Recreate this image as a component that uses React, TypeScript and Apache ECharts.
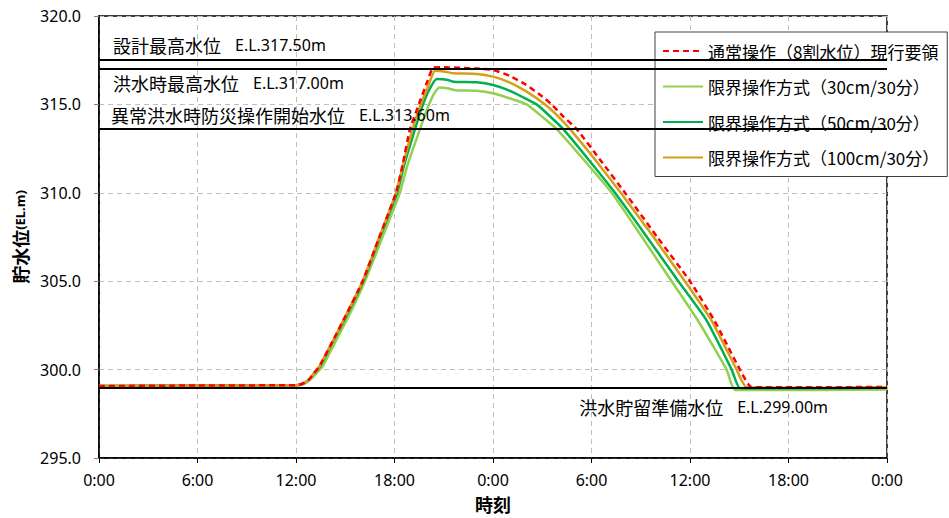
import React, { useEffect, useRef } from 'react';
import * as echarts from 'echarts';

// ---- data ----
const hourTicks = [0, 6, 12, 18, 24, 30, 36, 42, 48];

const seriesNames = [
  '通常操作（8割水位）現行要領',
  '限界操作方式（30cm/30分）',
  '限界操作方式（50cm/30分）',
  '限界操作方式（100cm/30分）',
];

const refNames = ['設計最高水位', '洪水時最高水位', '異常洪水時防災操作開始水位', '洪水貯留準備水位'];
const refLevels = [317.5, 317.0, 313.6, 299.0];

// 通常操作（8割水位）現行要領
const hoursNormal = [0, 6, 12, 12.4, 12.8, 13.1, 13.4, 14.27, 15, 16.06, 17.01, 18.09, 18.5, 18.94, 19.5, 20.0, 20.36, 21, 22, 23, 24, 25, 26, 27, 27.57, 28.3, 29.1, 30.5, 32.04, 34, 36, 37.5, 39.04, 39.76, 44, 48];
const levelNormal = [299.07, 299.1, 299.12, 299.2, 299.45, 299.8, 300.15, 301.67, 303.0, 305.0, 307.33, 310.0, 311.6, 313.6, 315.05, 316.3, 317.08, 317.1, 317.07, 317.03, 316.95, 316.62, 316.12, 315.45, 315.0, 314.3, 313.6, 311.9, 310.0, 307.5, 305.0, 302.75, 300.0, 299.0, 299.0, 299.02];

// 限界操作方式（30cm/30分）
const hours30 = [0, 6, 12, 12.5, 12.9, 13.25, 13.6, 14.45, 15.2, 16.2, 17.2, 18.33, 18.8, 19.55, 20.0, 20.4, 20.73, 21.3, 21.7, 23, 24, 25, 26.05, 27, 27.88, 29.5, 31.23, 33, 34.88, 36.5, 38.23, 38.74, 44, 48];
const level30 = [299.07, 299.1, 299.1, 299.2, 299.45, 299.8, 300.15, 301.67, 303.0, 305.0, 307.33, 310.0, 311.6, 313.6, 314.75, 315.6, 315.95, 315.9, 315.8, 315.77, 315.63, 315.35, 315.0, 314.3, 313.6, 311.9, 310.0, 307.6, 305.0, 302.75, 300.0, 298.85, 298.85, 298.87];

// 限界操作方式（50cm/30分）
const hours50 = [0, 6, 12, 12.4, 12.8, 13.1, 13.45, 14.3, 15.05, 16.1, 17.05, 18.17, 18.6, 19.25, 19.7, 20.1, 20.57, 21.2, 21.6, 23, 24, 25, 26.66, 27.5, 28.28, 29.8, 31.43, 33.3, 35.29, 37, 38.54, 39.05, 44, 48];
const level50 = [299.07, 299.1, 299.12, 299.2, 299.45, 299.8, 300.15, 301.67, 303.0, 305.0, 307.33, 310.0, 311.6, 313.6, 314.9, 315.8, 316.44, 316.4, 316.28, 316.25, 316.1, 315.78, 315.0, 314.3, 313.6, 311.9, 310.0, 307.6, 305.0, 302.8, 300.0, 298.95, 298.95, 298.98];

// 限界操作方式（100cm/30分）
const hours100 = [0, 6, 12, 12.4, 12.8, 13.1, 13.4, 14.27, 15, 16.06, 17.01, 18.09, 18.5, 19.1, 19.6, 20.0, 20.47, 21.1, 21.6, 23, 24, 25, 26, 27.17, 28, 28.69, 30.2, 31.78, 33.7, 35.69, 37.3, 38.84, 39.45, 44, 48];
const level100 = [299.07, 299.1, 299.12, 299.2, 299.45, 299.8, 300.15, 301.67, 303.0, 305.0, 307.33, 310.0, 311.5, 313.6, 315.0, 315.9, 316.9, 316.85, 316.76, 316.72, 316.57, 316.25, 315.75, 315.0, 314.3, 313.6, 311.9, 310.0, 307.6, 305.0, 302.8, 300.0, 299.0, 298.98, 299.0];

const zip = (t: number[], v: number[]) => t.map((h, i) => [h, v[i]]);

// ---- styles ----
const colors = ['#FF0000', '#92D050', '#00B050', '#D4A017'];
const refLabelPos = ['insideStartTop', 'insideStartBottom', 'insideStartTop', 'insideEndBottom'];
const refLabelDist: any[] = [[14, 6], [14, 5], [12, 5], [59, 11]];

const CJK = "'Noto Sans CJK JP'";
const LATIN = "'Noto Sans', 'Noto Sans CJK JP'";

function buildOption() {
  const refData = refLevels.map((v, i) => ({
    yAxis: v,
    label: {
      show: true,
      position: refLabelPos[i],
      distance: refLabelDist[i],
      formatter: `{c|${refNames[i]}}{s|　}{e|E.L.${v.toFixed(2)}m}`,
      rich: {
        c: { fontSize: 18, fontFamily: CJK, color: '#000' },
        s: { fontSize: 14, fontFamily: CJK },
        e: { fontSize: 16, fontFamily: LATIN, color: '#000' },
      },
    },
  }));

  const lineSeries = (idx: number, data: number[][], extra: any = {}) => ({
    name: seriesNames[idx],
    type: 'line',
    data,
    symbol: 'none',
    showSymbol: false,
    smooth: 0.15,
    z: 3,
    lineStyle: { color: colors[idx], width: 2.5, ...(extra.lineStyle || {}) },
    itemStyle: { color: colors[idx] },
  });

  return {
    animation: false,
    backgroundColor: '#fff',
    textStyle: { fontFamily: LATIN, color: '#000' },
    grid: {
      left: 99,
      right: 62,
      top: 16,
      bottom: 60,
      show: true,
      borderColor: '#000',
      borderWidth: 1.5,
      backgroundColor: 'transparent',
    },
    legend: {
      data: seriesNames,
      orient: 'vertical',
      left: 655,
      top: 32,
      padding: [8, 8, 8, 7],
      itemWidth: 40,
      itemHeight: 12,
      itemGap: 13.5,
      backgroundColor: '#fff',
      borderColor: '#404040',
      borderWidth: 1,
      borderRadius: 0,
      itemStyle: { opacity: 0 },
      textStyle: { fontSize: 17, fontFamily: CJK, color: '#000', lineHeight: 22 },
    },
    xAxis: {
      type: 'value',
      min: 0,
      max: 48,
      interval: 6,
      name: '時刻',
      nameLocation: 'middle',
      nameGap: 37,
      nameTextStyle: { fontSize: 18, fontWeight: 'bold', fontFamily: CJK, color: '#000' },
      axisLine: { show: true, lineStyle: { color: '#000', width: 1.5 } },
      axisTick: { show: true, length: 5, lineStyle: { color: '#000' } },
      axisLabel: {
        fontSize: 16,
        color: '#000',
        margin: 14,
        customValues: hourTicks,
        formatter: (h: number) => `${h % 24}:00`,
      },
      splitLine: { show: true, lineStyle: { color: '#BFBFBF', type: [5, 4], width: 1 } },
    },
    yAxis: {
      type: 'value',
      min: 295,
      max: 320,
      interval: 5,
      name: '{a|貯水位}{b|(EL.m)}',
      nameLocation: 'middle',
      nameGap: 68,
      nameTextStyle: {
        rich: {
          a: { fontSize: 18, fontWeight: 'bold', fontFamily: CJK, color: '#000' },
          b: { fontSize: 13, fontWeight: 'bold', fontFamily: LATIN, color: '#000' },
        },
      },
      axisLine: { show: true, lineStyle: { color: '#000', width: 1.5 } },
      axisTick: { show: true, length: 5, lineStyle: { color: '#808080' } },
      axisLabel: {
        fontSize: 16,
        color: '#000',
        margin: 18,
        formatter: (v: number) => v.toFixed(1),
      },
      splitLine: { show: true, lineStyle: { color: '#BFBFBF', type: [5, 4], width: 1 } },
    },
    series: [
      {
        name: 'ref',
        type: 'line',
        data: [],
        z: 2,
        markLine: {
          silent: true,
          symbol: ['none', 'none'],
          animation: false,
          lineStyle: { color: '#000', width: 2, type: 'solid' },
          data: refData,
        },
      },
      lineSeries(1, zip(hours30, level30)),
      lineSeries(2, zip(hours50, level50)),
      lineSeries(3, zip(hours100, level100)),
      lineSeries(0, zip(hoursNormal, levelNormal), { lineStyle: { type: [6, 4] } }),
    ],
  };
}

export default function App() {
  const ref = useRef<HTMLDivElement>(null);
  useEffect(() => {
    if (!ref.current) return;
    const chart = echarts.init(ref.current, null, { renderer: 'svg' });
    chart.setOption(buildOption() as any);
    return () => chart.dispose();
  }, []);
  return (
    <div
      ref={ref}
      style={{ position: 'fixed', left: 0, top: 0, width: 949, height: 518, background: '#fff' }}
    />
  );
}
